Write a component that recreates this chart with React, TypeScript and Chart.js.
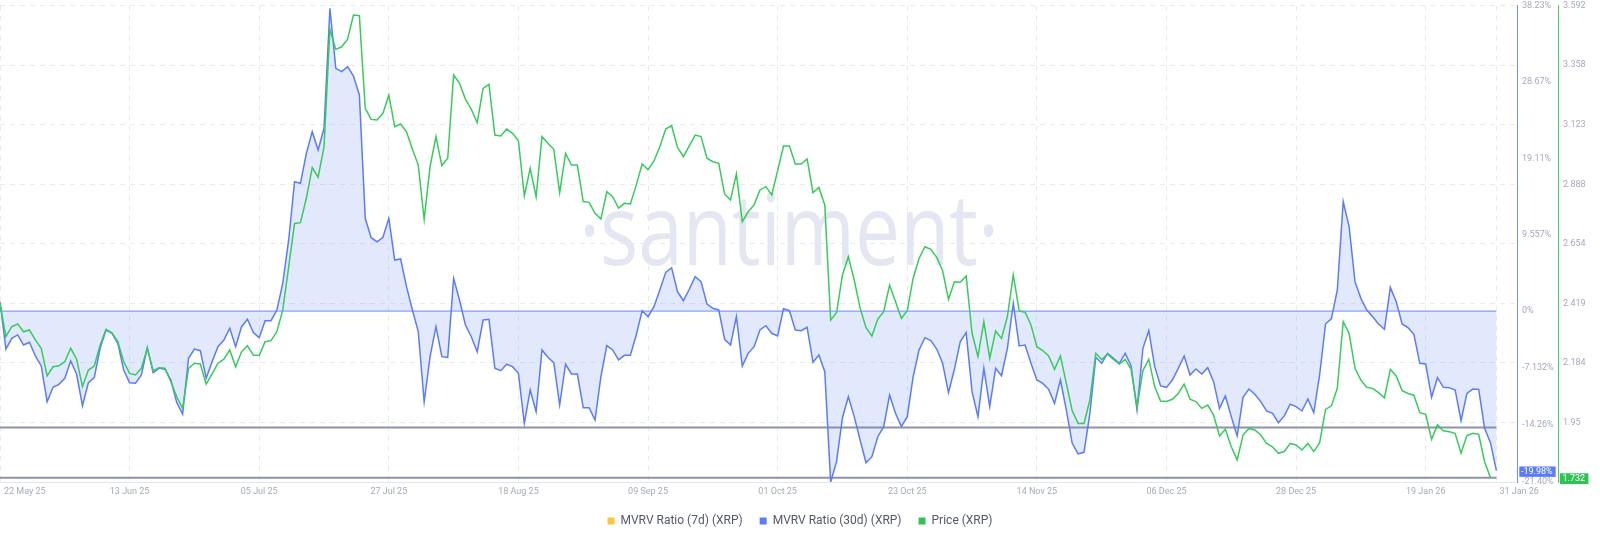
import React, { useEffect, useRef } from "react";
import { Chart, registerables } from "chart.js";

Chart.register(...registerables);

// ---------- data ----------
const X_TICK_DAYS = [0, 22, 44, 66, 88, 110, 132, 154, 176, 198, 220, 242, 254];
const X_TICK_LABELS = [
  "22 May 25", "13 Jun 25", "05 Jul 25", "27 Jul 25", "18 Aug 25", "09 Sep 25", "01 Oct 25",
  "23 Oct 25", "14 Nov 25", "06 Dec 25", "28 Dec 25", "19 Jan 26", "31 Jan 26",
];
const X_AXIS_END_DAY = 257.5;

const MVRV_TICKS = [-21.4, -14.26, -7.132, 0, 9.557, 19.11, 28.67, 38.23];
const MVRV_TICK_LABELS = ["-21.40%", "-14.26%", "-7.132%", "0%", "9.557%", "19.11%", "28.67%", "38.23%"];
const PRICE_TICKS = [1.715, 1.95, 2.184, 2.419, 2.654, 2.888, 3.123, 3.358, 3.592];
const PRICE_TICK_LABELS = ["1.715", "1.95", "2.184", "2.419", "2.654", "2.888", "3.123", "3.358", "3.592"];

const LEGEND_LABELS = ["MVRV Ratio (7d) (XRP)", "MVRV Ratio (30d) (XRP)", "Price (XRP)"];
const LEGEND_COLORS = ["#fdc440", "#5b7cf6", "#2dc653"];

// MVRV Ratio (7d) is listed in the legend but has no visible line
const MVRV_7D: number[] = [];

// MVRV Ratio (30d), %, daily from 22 May 25 to 31 Jan 26
const MVRV_30D = [
  1.17, -4.75, -3.41, -2.99, -4.25, -3.91, -5.62, -6.87, -11.35, -9.54,
  -9.17, -8.42, -6.25, -7.88, -11.85, -8.97, -8.34, -4.66, -2.37, -2.78,
  -4.03, -7.38, -8.97, -9.04, -8.0, -4.58, -7.72, -7.16, -7.29, -8.63,
  -11.43, -12.89, -5.91, -4.75, -4.96, -8.42, -6.34, -4.46, -3.62, -2.15,
  -4.46, -1.96, -1.03, -2.7, -3.33, -1.21, -1.21, 0.13, 3.5, 8.9,
  16.2, 15.99, 19.75, 22.46, 20.16, 22.88, 37.9, 30.39, 29.97, 30.6,
  29.43, 27.05, 11.61, 9.19, 8.68, 9.24, 11.61, 6.39, 6.52, 3.05,
  0.14, -2.58, -11.35, -5.71, -1.96, -5.71, -5.79, 4.1, 1.39, -1.75,
  -3.21, -5.09, -1.12, -1.03, -7.16, -7.46, -6.66, -6.96, -7.79, -14.05,
  -9.88, -12.59, -4.87, -5.79, -6.46, -11.76, -6.66, -7.88, -7.88, -12.1,
  -12.1, -13.64, -8.21, -4.33, -4.87, -6.12, -5.54, -5.54, -2.99, 0.05,
  -0.7, 0.55, 2.64, 4.85, 5.43, 2.43, 1.3, 2.73, 4.3, 3.68,
  0.88, 0.35, 0.14, -3.53, -4.25, -0.7, -6.88, -5.29, -4.46, -2.37,
  -1.83, -2.78, -3.12, 0.3, 0.05, -2.37, -2.46, -2.03, -6.41, -5.5,
  -7.59, -21.4, -18.86, -13.35, -10.72, -13.22, -16.14, -18.98, -18.23, -15.73,
  -14.47, -10.51, -12.8, -14.47, -13.22, -8.21, -4.87, -3.33, -3.7, -4.75,
  -6.54, -10.22, -7.29, -3.83, -2.7, -10.09, -13.22, -7.17, -11.97, -7.17,
  -8.09, -4.66, 0.97, -4.37, -4.25, -6.54, -8.63, -9.05, -9.8, -11.55,
  -8.63, -12.38, -16.55, -17.89, -17.68, -12.8, -5.79, -6.54, -5.29, -5.92,
  -6.54, -5.29, -6.88, -12.38, -4.66, -2.45, -6.96, -9.38, -9.55, -8.63,
  -7.17, -5.62, -8.0, -7.25, -7.88, -7.08, -8.84, -12.18, -10.63, -13.22,
  -15.64, -10.8, -9.76, -10.42, -11.34, -12.51, -12.8, -13.97, -13.13, -11.67,
  -11.97, -12.51, -11.01, -12.72, -8.0, -1.62, -0.95, 2.64, 13.7, 10.57,
  3.68, 1.59, 0.13, -0.7, -1.62, -2.29, 2.97, 1.18, -1.62, -2.08,
  -2.91, -6.54, -6.63, -10.8, -8.34, -9.55, -9.59, -9.88, -13.72, -10.3,
  -9.76, -9.8, -14.68, -16.47, -19.98,
];

// Price (XRP), USD, daily from 22 May 25 to 30 Jan 26
const PRICE = [
  2.419, 2.288, 2.327, 2.338, 2.307, 2.314, 2.275, 2.242, 2.133, 2.169,
  2.173, 2.189, 2.242, 2.199, 2.091, 2.156, 2.172, 2.255, 2.317, 2.303,
  2.268, 2.189, 2.143, 2.137, 2.163, 2.242, 2.154, 2.165, 2.163, 2.11,
  2.051, 2.005, 2.163, 2.183, 2.18, 2.101, 2.141, 2.183, 2.199, 2.235,
  2.169, 2.228, 2.252, 2.215, 2.214, 2.268, 2.272, 2.307, 2.393, 2.563,
  2.734, 2.737, 2.833, 2.954, 2.916, 3.036, 3.499, 3.42, 3.43, 3.46,
  3.555, 3.553, 3.188, 3.144, 3.142, 3.168, 3.24, 3.115, 3.126, 3.095,
  3.026, 2.964, 2.75, 2.958, 3.076, 2.962, 2.991, 3.319, 3.286, 3.224,
  3.184, 3.131, 3.266, 3.282, 3.082, 3.079, 3.106, 3.089, 3.06, 2.842,
  2.951, 2.839, 3.076, 3.05, 3.026, 2.855, 3.01, 2.964, 2.964, 2.82,
  2.817, 2.774, 2.751, 2.859, 2.839, 2.794, 2.813, 2.811, 2.885, 2.968,
  2.945, 2.98, 3.036, 3.106, 3.119, 3.034, 2.997, 3.04, 3.082, 3.076,
  2.991, 2.977, 2.971, 2.85, 2.826, 2.929, 2.741, 2.78, 2.807, 2.866,
  2.879, 2.846, 2.942, 3.039, 3.039, 2.968, 2.968, 2.988, 2.855, 2.876,
  2.807, 2.353, 2.382, 2.531, 2.603, 2.511, 2.4, 2.323, 2.29, 2.357,
  2.386, 2.491, 2.426, 2.36, 2.39, 2.518, 2.596, 2.642, 2.632, 2.6,
  2.548, 2.435, 2.504, 2.502, 2.527, 2.301, 2.209, 2.347, 2.202, 2.31,
  2.281, 2.367, 2.531, 2.389, 2.384, 2.334, 2.248, 2.233, 2.212, 2.159,
  2.212, 2.104, 1.996, 1.946, 1.946, 2.038, 2.222, 2.198, 2.219, 2.198,
  2.18, 2.198, 2.159, 2.009, 2.154, 2.198, 2.091, 2.034, 2.032, 2.041,
  2.064, 2.101, 2.041, 2.032, 2.005, 2.018, 1.979, 1.896, 1.923, 1.854,
  1.802, 1.9, 1.926, 1.92, 1.9, 1.867, 1.854, 1.828, 1.835, 1.867,
  1.861, 1.841, 1.867, 1.835, 1.87, 2.001, 2.015, 2.084, 2.347, 2.301,
  2.163, 2.117, 2.088, 2.084, 2.067, 2.047, 2.159, 2.133, 2.075, 2.064,
  2.057, 1.988, 1.982, 1.883, 1.94, 1.917, 1.913, 1.907, 1.828, 1.898,
  1.907, 1.903, 1.795, 1.732,
];

const MVRV_BASELINE = 0;
const PRICE_LEVELS = [1.93, 1.732];

// ---------- styles ----------
const BLUE = "#5b7cf6";
const GREEN = "#38ca5c";
const TICK_COLOR = "#a5aabd";
const GRID_COLOR = "#e8eaf0";
const FONT = "Roboto";

const lastDay = MVRV_30D.length - 1;
const levelLine = (level: number) => [
  { x: 0, y: level },
  { x: lastDay, y: level },
];

const xLabelPlugin = {
  id: "xLabelAlign",
  beforeDraw(chart: any) {
    const xs = chart.scales.x;
    const items = xs.getLabelItems(chart.chartArea);
    if (!items || !items.length) return;
    const first = items[0];
    first.options.textAlign = "left";
    first.options.translation[0] += 4;
    const last = items[items.length - 1];
    last.options.textAlign = "left";
    last.options.translation[0] += 3;
  },
};

const watermarkPlugin = {
  id: "watermark",
  beforeDatasetsDraw(chart: any) {
    const ctx = chart.ctx;
    const text = "·santiment·";
    ctx.save();
    ctx.font = `400 98px "Open Sans"`;
    const w = ctx.measureText(text).width;
    ctx.translate(579, 265);
    ctx.scale(420 / w, 1);
    ctx.fillStyle = "#e4e7f1";
    ctx.textBaseline = "alphabetic";
    ctx.textAlign = "left";
    ctx.fillText(text, 0, 0);
    ctx.restore();
  },
};

const badgePlugin = {
  id: "badges",
  afterDraw(chart: any) {
    const ctx = chart.ctx;
    const sm = chart.scales.yMvrv;
    const sp = chart.scales.yPrice;
    const lastM = MVRV_30D[MVRV_30D.length - 1];
    const lastP = PRICE[PRICE.length - 1];
    ctx.save();
    ctx.font = `9px ${FONT}`;
    ctx.textBaseline = "middle";
    ctx.textAlign = "left";
    const ym = sm.getPixelForValue(lastM) + 1;
    ctx.fillStyle = BLUE;
    ctx.fillRect(sm.left + 2.3, ym - 5.2, 36.4, 10.4);
    ctx.fillStyle = "#ffffff";
    ctx.fillText(lastM.toFixed(2) + "%", sm.left + 4, ym + 0.5);
    const yp = sp.getPixelForValue(lastP) + 1;
    ctx.fillStyle = "#2fc255";
    ctx.fillRect(sp.left + 2, yp - 5.4, 28.4, 10.8);
    ctx.fillStyle = "#ffffff";
    ctx.fillText(lastP.toFixed(3), sp.left + 4.5, yp + 0.5);
    ctx.restore();
  },
};

export default function App() {
  const ref = useRef<HTMLCanvasElement>(null);

  useEffect(() => {
    document.body.style.margin = "0";
    const canvas = ref.current;
    if (!canvas) return;

    const chart = new Chart(canvas, {
      type: "line",
      data: {
        datasets: [
          {
            label: LEGEND_LABELS[0],
            data: MVRV_7D.map((v, i) => ({ x: i, y: v })),
            borderColor: LEGEND_COLORS[0],
            yAxisID: "yMvrv",
            pointRadius: 0,
            order: 5,
          },
          {
            label: LEGEND_LABELS[1],
            data: MVRV_30D.map((v, i) => ({ x: i, y: v })),
            borderColor: BLUE,
            borderWidth: 1.5,
            backgroundColor: "rgba(91,124,246,0.17)",
            fill: { value: MVRV_BASELINE },
            yAxisID: "yMvrv",
            pointRadius: 0,
            tension: 0,
            order: 1,
          },
          {
            label: LEGEND_LABELS[2],
            data: PRICE.map((v, i) => ({ x: i, y: v })),
            borderColor: GREEN,
            borderWidth: 1.5,
            yAxisID: "yPrice",
            pointRadius: 0,
            tension: 0,
            fill: false,
            order: 0,
          },
          {
            label: "baseline",
            data: levelLine(MVRV_BASELINE),
            borderColor: "rgba(110,140,247,0.8)",
            borderWidth: 1.2,
            yAxisID: "yMvrv",
            pointRadius: 0,
            fill: false,
            order: 2,
          },
          ...PRICE_LEVELS.map((lv) => ({
            label: "level",
            data: levelLine(lv),
            borderColor: "#8e93a8",
            borderWidth: 2,
            yAxisID: "yPrice",
            pointRadius: 0,
            fill: false,
            order: 3,
          })),
        ] as any,
      },
      options: {
        animation: false,
        responsive: true,
        maintainAspectRatio: false,
        events: [],
        layout: { padding: { bottom: 5 } },
        parsing: false as any,
        normalized: true,
        scales: {
          x: {
            type: "linear",
            min: 0,
            max: X_AXIS_END_DAY,
            afterBuildTicks: (s: any) => {
              s.ticks = X_TICK_DAYS.map((v) => ({ value: v }));
            },
            afterFit: (s: any) => {
              s.paddingLeft = 0;
              s.paddingRight = 0;
              s.height = 16;
            },
            ticks: {
              autoSkip: false,
              maxRotation: 0,
              minRotation: 0,
              padding: 4,
              color: TICK_COLOR,
              font: { family: FONT, size: 9 },
              callback: (v: any) => {
                const i = X_TICK_DAYS.indexOf(Number(v));
                return i >= 0 ? X_TICK_LABELS[i] : "";
              },
            },
            grid: { color: GRID_COLOR, drawTicks: false, tickLength: 0 },
            border: { display: true, color: "#e4e6ee", dash: [5, 5] },
          },
          yMvrv: {
            type: "linear",
            position: "right",
            weight: 0,
            min: MVRV_TICKS[0],
            max: MVRV_TICKS[MVRV_TICKS.length - 1],
            afterBuildTicks: (s: any) => {
              s.ticks = MVRV_TICKS.map((v) => ({ value: v }));
            },
            afterFit: (s: any) => {
              s.width = 41;
              s.paddingTop = 5.7;
              s.paddingBottom = 0;
            },
            ticks: {
              padding: 5,
              color: TICK_COLOR,
              font: { family: FONT, size: 9 },
              callback: (v: any) => {
                const i = MVRV_TICKS.indexOf(Number(v));
                return i >= 0 ? MVRV_TICK_LABELS[i] : "";
              },
            },
            grid: { display: false, drawTicks: false },
            border: { display: true, color: "#6e8ef8", width: 1 },
          },
          yPrice: {
            type: "linear",
            position: "right",
            weight: 1,
            min: PRICE_TICKS[0],
            max: PRICE_TICKS[PRICE_TICKS.length - 1],
            afterBuildTicks: (s: any) => {
              s.ticks = PRICE_TICKS.map((v) => ({ value: v }));
            },
            afterFit: (s: any) => {
              s.width = 42;
              s.paddingTop = 5.7;
              s.paddingBottom = 0;
            },
            ticks: {
              padding: 5,
              color: TICK_COLOR,
              font: { family: FONT, size: 9 },
              callback: (v: any) => {
                const i = PRICE_TICKS.indexOf(Number(v));
                return i >= 0 ? PRICE_TICK_LABELS[i] : "";
              },
            },
            grid: { color: GRID_COLOR, drawTicks: false, tickLength: 0 },
            border: { display: true, color: "#46d168", width: 1, dash: [5, 5] },
          },
        },
        plugins: {
          tooltip: { enabled: false },
          legend: {
            position: "bottom",
            labels: {
              boxWidth: 7,
              boxHeight: 7,
              padding: 17,
              color: "#545869",
              font: { family: FONT, size: 12 },
              generateLabels: () =>
                LEGEND_LABELS.map((text, i) => ({
                  text,
                  fillStyle: LEGEND_COLORS[i],
                  strokeStyle: LEGEND_COLORS[i],
                  lineWidth: 0,
                  hidden: false,
                  datasetIndex: i,
                  fontColor: "#545869",
                })),
            },
          },
        },
      } as any,
      plugins: [xLabelPlugin, watermarkPlugin, badgePlugin],
    });

    return () => chart.destroy();
  }, []);

  return (
    <div style={{ width: 1600, height: 542, position: "relative" }}>
      <canvas ref={ref} />
    </div>
  );
}
